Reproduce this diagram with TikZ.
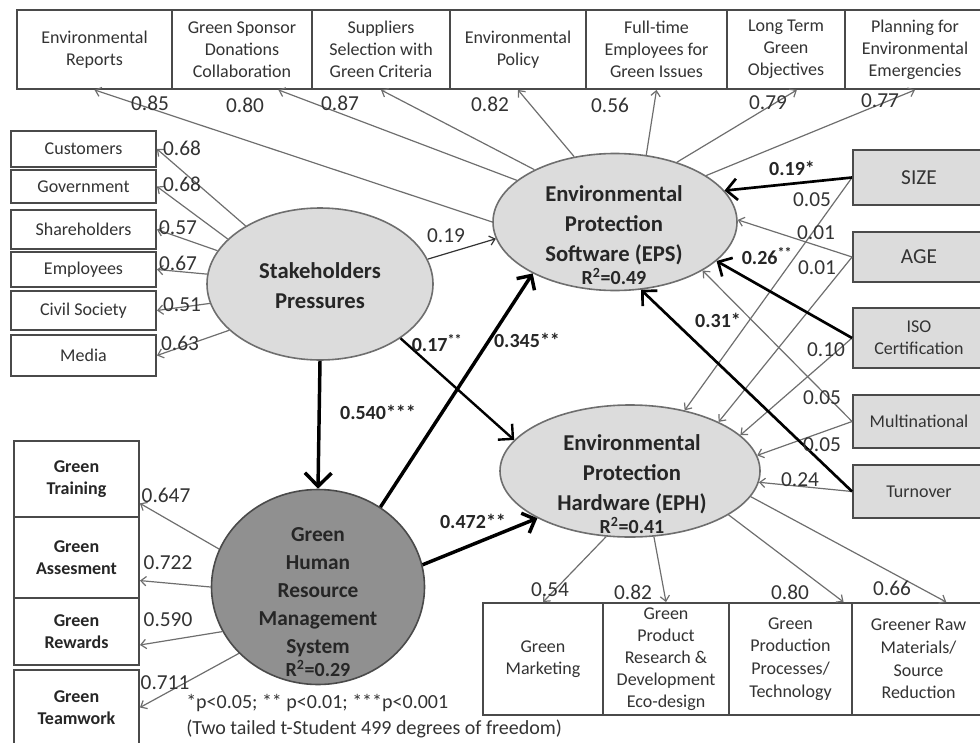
\documentclass[tikz,border=0pt]{standalone}
\usepackage{fontspec}
\setmainfont{Carlito}
\usepackage{xcolor}
\usetikzlibrary{shapes.geometric,arrows.meta}

\definecolor{boxline}{HTML}{4A4A4A}
\definecolor{edgegray}{HTML}{6E6E6E}
\definecolor{txtgray}{HTML}{333333}
\definecolor{lightfill}{HTML}{DCDCDC}
\definecolor{darkfill}{HTML}{909090}

\begin{document}
\begin{tikzpicture}[x=0.75pt,y=-0.75pt,
    item/.style={draw=boxline,line width=1.4pt,fill=white,align=center,inner sep=1pt,
        text=txtgray,font=\fontsize{13.5}{16.5}\selectfont},
    greenbox/.style={item,text=black!85,font=\bfseries\fontsize{13.5}{16.5}\selectfont},
    ctrl/.style={item,fill=lightfill},
    latent/.style={ellipse,draw=edgegray,line width=1.2pt,fill=lightfill,inner sep=0pt},
    bigtext/.style={align=center,inner sep=0pt,text=black!85,
        font=\bfseries\fontsize{17}{22.5}\selectfont},
    load/.style={draw=edgegray,line width=0.9pt,-{Straight Barb[length=4pt,width=7pt]}},
    effect/.style={draw=black,line width=2.6pt,-{Straight Barb[length=8pt,width=16pt]}},
    coef/.style={inner sep=0pt,text=txtgray,font=\fontsize{16}{18}\selectfont},
    coefb/.style={coef,text=black!85,font=\bfseries\fontsize{15}{18}\selectfont}]
    \useasboundingbox (0,0) rectangle (980,742);

    % indicators of EPS
    \node[item,minimum width=116.25pt,minimum height=59.25pt] (rep) at (94.5,49.5) {Environmental\\Reports};
    \node[item,minimum width=105pt,minimum height=59.25pt] (spon) at (242,49.5) {Green Sponsor\\Donations\\Collaboration};
    \node[item,minimum width=103.5pt,minimum height=59.25pt] (supp) at (381,49.5) {Suppliers\\Selection with\\Green Criteria};
    \node[item,minimum width=102pt,minimum height=59.25pt] (pol) at (518,49.5) {Environmental\\Policy};
    \node[item,minimum width=105.75pt,minimum height=59.25pt] (staff) at (656.5,49.5) {Full-time\\Employees for\\Green Issues};
    \node[item,minimum width=88.5pt,minimum height=59.25pt] (obj) at (786,49.5) {Long Term\\Green\\Objectives};
    \node[item,minimum width=105pt,minimum height=59.25pt] (plan) at (915,49.5) {Planning for\\Environmental\\Emergencies};

    % indicators of stakeholders pressures
    \node[item,minimum width=108.75pt,minimum height=27pt] (cust) at (83.5,149) {Customers};
    \node[item,minimum width=108.75pt,minimum height=25pt] (gov) at (83.5,186.5) {Government};
    \node[item,minimum width=108.75pt,minimum height=29pt] (share) at (83.5,229.5) {Shareholders};
    \node[item,minimum width=108.75pt,minimum height=26pt] (empl) at (83.5,269.5) {Employees};
    \node[item,minimum width=108.75pt,minimum height=29pt] (civ) at (83.5,310.5) {Civil Society};
    \node[item,minimum width=108.75pt,minimum height=30.5pt] (media) at (83.5,355.5) {Media};

    % indicators of GHRM
    \node[greenbox,minimum width=93.75pt,minimum height=57pt] (train) at (76.5,479) {Green\\Training};
    \node[greenbox,minimum width=93.75pt,minimum height=60.75pt] (assess) at (76.5,557.5) {Green\\Assesment};
    \node[greenbox,minimum width=93.75pt,minimum height=50.25pt] (reward) at (76.5,631.5) {Green\\Rewards};
    \node[greenbox,minimum width=93.75pt,minimum height=56.25pt] (team) at (76.5,707.5) {Green\\Teamwork};

    % indicators of EPH
    \node[item,minimum width=90pt,minimum height=84pt] (mkt) at (543,659) {Green\\Marketing};
    \node[item,minimum width=94.5pt,minimum height=84pt,inner sep=0pt,font=\fontsize{13.5}{16.5}\selectfont] (rnd) at (666,659) {Green\\Product\\Research \&\\Development\\Eco-design};
    \node[item,minimum width=92.25pt,minimum height=84pt,font=\fontsize{13.5}{17}\selectfont] (prod) at (790.5,659) {Green\\Production\\Processes/\\Technology};
    \node[item,minimum width=99.75pt,minimum height=84pt,font=\fontsize{13.5}{17}\selectfont] (raw) at (918.5,659) {Greener Raw\\Materials/\\Source\\Reduction};

    % control variables
    \node[ctrl,minimum width=99pt,minimum height=41.25pt,font=\fontsize{16}{19}\selectfont] (size) at (919,177.5) {SIZE};
    \node[ctrl,minimum width=99pt,minimum height=37.5pt,font=\fontsize{16}{19}\selectfont] (age) at (919,257) {AGE};
    \node[ctrl,minimum width=99pt,minimum height=45pt] (iso) at (919,338) {ISO\\Certification};
    \node[ctrl,minimum width=99pt,minimum height=39.75pt] (multi) at (919,421.5) {Multinational};
    \node[ctrl,minimum width=99pt,minimum height=39.75pt] (turn) at (919,491.5) {Turnover};

    % latent variables
    \node[latent,minimum width=169.5pt,minimum height=114pt] (sp) at (320,284) {};
    \node[latent,minimum width=183pt,minimum height=102.75pt] (eps) at (615,222) {};
    \node[latent,minimum width=195pt,minimum height=99pt] (eph) at (630,471) {};
    \node[latent,fill=darkfill,draw=boxline,minimum width=159.75pt,minimum height=146.25pt] (ghrm) at (318,587) {};
    \node[bigtext] (sptext) at (320,286) {Stakeholders\\Pressures};
    \node[bigtext] (epstext) at (614,235) {Environmental\\Protection\\Software (EPS)\\[-5pt]{\fontsize{15}{17}\selectfont R\textsuperscript{2}=0.49}};
    \node[bigtext] (ephtext) at (632,484) {Environmental\\Protection\\Hardware (EPH)\\[-5pt]{\fontsize{15}{17}\selectfont R\textsuperscript{2}=0.41}};
    \node[bigtext,font=\bfseries\fontsize{16}{21}\selectfont] (ghrmtext) at (318,602) {Green\\Human\\Resource\\Management\\System\\[-4pt]{\fontsize{15}{17}\selectfont R\textsuperscript{2}=0.29}};

    % loadings
    \draw[load] (eps.180) -- (rep.south);
    \draw[load] (eps.157) -- (spon.-48);
    \draw[load] (eps.147) -- (supp.south);
    \draw[load] (eps.122) -- (pol.south);
    \draw[load] (eps.65) -- (staff.south);
    \draw[load] (eps.44) -- (obj.-75);
    \draw[load] (eps.27) -- (plan.south);
    \draw[load] (sp.142) -- (cust.east);
    \draw[load] (sp.154) -- (gov.east);
    \draw[load] (sp.162) -- (share.east);
    \draw[load] (sp.175) -- (empl.east);
    \draw[load] (sp.190) -- (civ.east);
    \draw[load] (sp.207) -- (media.east);
    \draw[load] (ghrm.159) -- (train.-21);
    \draw[load] (ghrm.180) -- (assess.-20);
    \draw[load] (ghrm.205) -- (reward.-12);
    \draw[load] (ghrm.220) -- (team.east);
    \draw[load] (eph.-110) -- (mkt.north);
    \draw[load] (eph.-70) -- (rnd.north);
    \draw[load] (eph.-24) -- (prod.47);
    \draw[load] (eph.-12) -- (raw.64);

    % controls
    \draw[load] (size.west) -- (eph.48);
    \draw[load] (age.west) -- (eps.1);
    \draw[load] (age.west) -- (eph.29);
    \draw[load] (iso.west) -- (eph.18);
    \draw[load] (multi.west) -- (eps.-29);
    \draw[load] (multi.west) -- (eph.7);
    \draw[load] (turn.west) -- (eph.-5);
    \draw[effect,line width=2pt] (size.west) -- (eps.16);
    \draw[effect,line width=2pt] (iso.west) -- (eps.-21);
    \draw[effect,line width=2pt] (turn.west) -- (eps.-69);

    % structural paths
    \draw[load,draw=black!80] (sp.13) -- (eps.188);
    \draw[effect,line width=1.8pt] (sp.-34) -- (eph.165);
    \draw[effect,-{Straight Barb[length=10pt,width=20pt]}] (sp.south) -- (ghrm.north);
    \draw[effect] (ghrm.52) -- (eps.212);
    \draw[effect] (ghrm.12) -- (eph.207);

    % coefficients
    \node[coef] (c1) at (150,103) {0.85};
    \node[coef] (c2) at (245,105) {0.80};
    \node[coef] (c3) at (340,103) {0.87};
    \node[coef] (c4) at (490,104) {0.82};
    \node[coef] (c5) at (610,105) {0.56};
    \node[coef] (c6) at (768,103) {0.79};
    \node[coef] (c7) at (880,101) {0.77};
    \node[coef] (c8) at (182,148) {0.68};
    \node[coef] (c9) at (182,184) {0.68};
    \node[coef] (c10) at (178,228) {0.57};
    \node[coef] (c11) at (178,263) {0.67};
    \node[coef] (c12) at (182,305) {0.51};
    \node[coef] (c13) at (180,343) {0.63};
    \node[coef] (c14) at (446,236) {0.19};
    \node[coefb] (c15) at (437,343) {0.17\textsuperscript{**}};
    \node[coefb] (c16) at (527,340) {0.345**};
    \node[coefb] (c17) at (378,412) {0.540***};
    \node[coefb] (c18) at (473,521) {0.472**};
    \node[coef] (c19) at (166,495) {0.647};
    \node[coef] (c20) at (168,563) {0.722};
    \node[coef] (c21) at (168,620) {0.590};
    \node[coef] (c22) at (165,683) {0.711};
    \node[coef] (c23) at (550,590) {0.54};
    \node[coef] (c24) at (633,592) {0.82};
    \node[coef] (c25) at (790,592) {0.80};
    \node[coef] (c26) at (892,588) {0.66};
    \node[coefb] (c27) at (792,168) {0.19*};
    \node[coef] (c28) at (812,200) {0.05};
    \node[coef] (c29) at (816,233) {0.01};
    \node[coefb] (c30) at (767,256) {0.26\textsuperscript{**}};
    \node[coef] (c31) at (817,268) {0.01};
    \node[coefb] (c32) at (718,320) {0.31*};
    \node[coef] (c33) at (826,350) {0.10};
    \node[coef] (c34) at (822,398) {0.05};
    \node[coef] (c35) at (822,445) {0.05};
    \node[coef] (c36) at (800,480) {0.24};
    \node[coef,align=left,anchor=west,font=\fontsize{15}{19.5}\selectfont] (note) at (186,716) {*p<0.05; ** p<0.01; ***p<0.001\\(Two tailed t-Student 499 degrees of freedom)};
\end{tikzpicture}
\end{document}
